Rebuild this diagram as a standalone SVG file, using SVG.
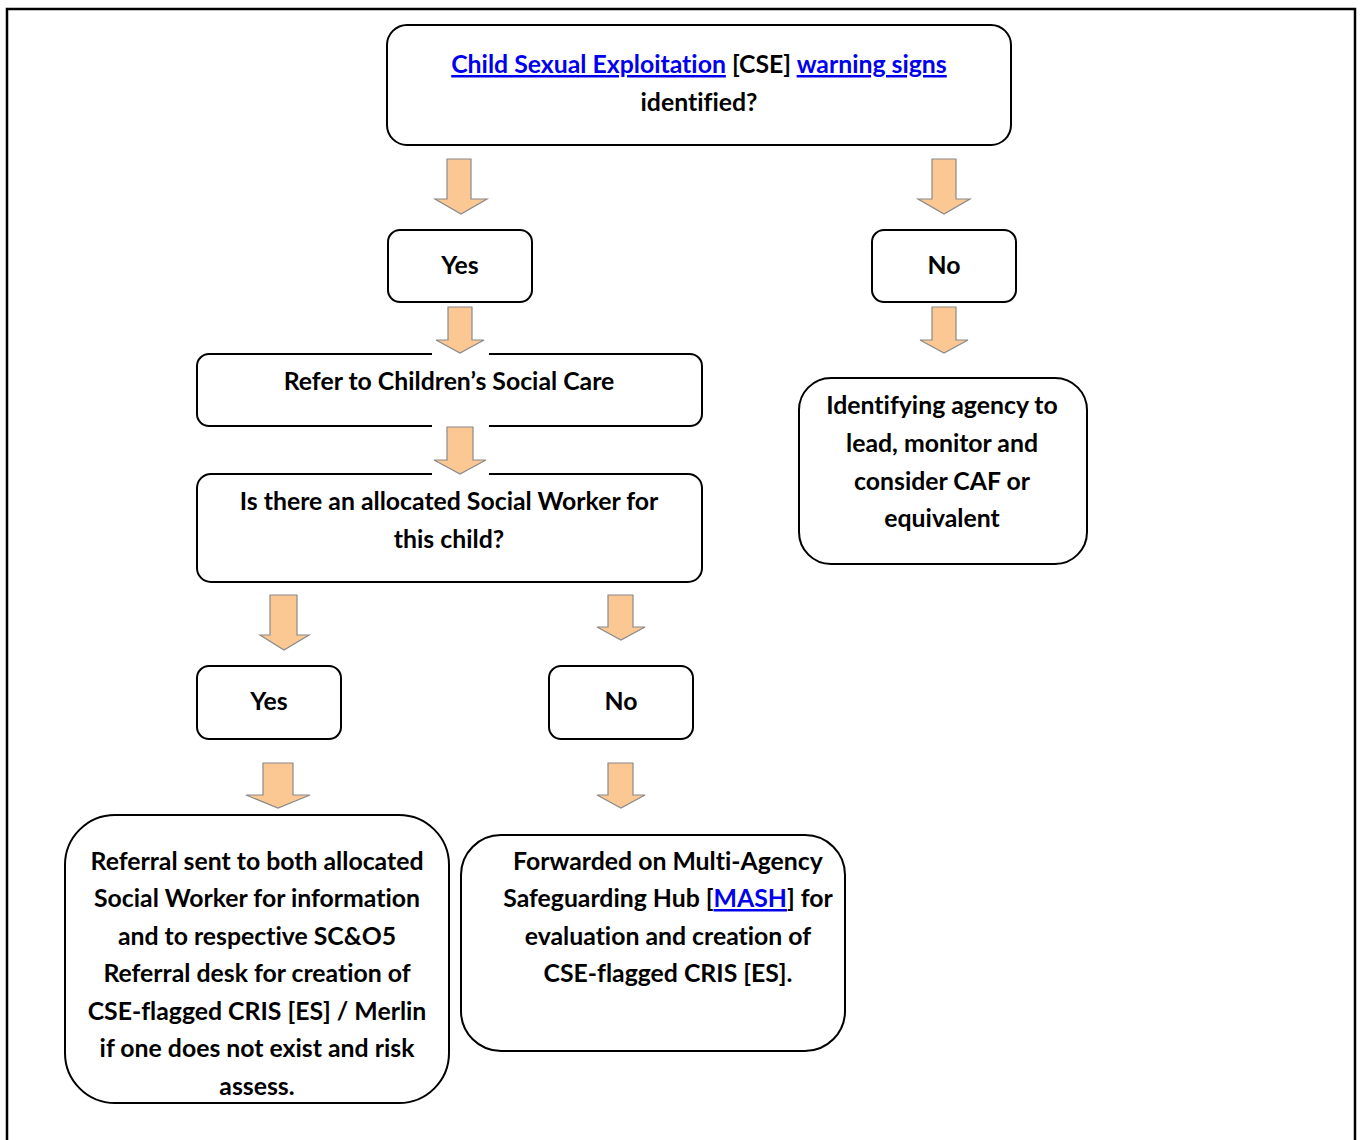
<svg xmlns="http://www.w3.org/2000/svg" width="1362" height="1140" viewBox="0 0 1362 1140">
<defs>
<style>
.box{fill:#fff;stroke:#000;stroke-width:2}
.t{font-family:Lato,"Open Sans","Liberation Sans",sans-serif;font-weight:bold;font-size:24.8px;fill:#000;text-anchor:middle;font-variant-ligatures:none}
.lnk{fill:#0000EE;text-decoration:underline}
.arr{fill:#FBC793;stroke:#8a8a8a;stroke-width:1.2;stroke-linejoin:miter}
.bg{fill:#fff}
</style>
</defs>
<rect width="1362" height="1140" fill="#fff"/>
<path d="M7 1142 V9 H1355 V1142" fill="none" stroke="#000" stroke-width="2.5"/>

<g id="n-top">
<rect class="box" x="387" y="25" width="624" height="120" rx="20"/>
<text class="t" x="699" y="73"><tspan class="lnk">Child Sexual Exploitation</tspan> [CSE] <tspan class="lnk">warning signs</tspan></text>
<text class="t" x="699" y="111">identified?</text>
</g>
<g id="n-yes1">
<rect class="box" x="388" y="230" width="144" height="72" rx="12"/>
<text class="t" x="460" y="274">Yes</text>
</g>
<g id="n-no1">
<rect class="box" x="872" y="230" width="144" height="72" rx="12"/>
<text class="t" x="944" y="274">No</text>
</g>
<g id="n-refer">
<rect class="box" x="197" y="354" width="505" height="72" rx="12"/>
<text class="t" x="449" y="390">Refer to Children’s Social Care</text>
</g>
<g id="n-allocated">
<rect class="box" x="197" y="474" width="505" height="108" rx="14"/>
<text class="t" x="449" y="510">Is there an allocated Social Worker for</text>
<text class="t" x="449" y="548">this child?</text>
</g>
<g id="n-identifying">
<rect class="box" x="799" y="378" width="288" height="186" rx="32"/>
<text class="t" x="942" y="414">Identifying agency to</text>
<text class="t" x="942" y="452">lead, monitor and</text>
<text class="t" x="942" y="490">consider CAF or</text>
<text class="t" x="942" y="527">equivalent</text>
</g>
<g id="n-yes2">
<rect class="box" x="197" y="666" width="144" height="73" rx="12"/>
<text class="t" x="269" y="710">Yes</text>
</g>
<g id="n-no2">
<rect class="box" x="549" y="666" width="144" height="73" rx="12"/>
<text class="t" x="621" y="710">No</text>
</g>
<g id="n-referral">
<rect class="box" x="65" y="815" width="384" height="288" rx="50"/>
<text class="t" x="257" y="870">Referral sent to both allocated</text>
<text class="t" x="257" y="907">Social Worker for information</text>
<text class="t" x="257" y="945">and to respective SC&amp;O5</text>
<text class="t" x="257" y="982">Referral desk for creation of</text>
<text class="t" x="257" y="1020">CSE-flagged CRIS [ES] / Merlin</text>
<text class="t" x="257" y="1057">if one does not exist and risk</text>
<text class="t" x="257" y="1095">assess.</text>
</g>
<g id="n-forwarded">
<rect class="box" x="461" y="835" width="384" height="216" rx="40"/>
<text class="t" x="668" y="870">Forwarded on Multi-Agency</text>
<text class="t" x="668" y="907">Safeguarding Hub [<tspan class="lnk">MASH</tspan>] for</text>
<text class="t" x="668" y="945">evaluation and creation of</text>
<text class="t" x="668" y="982">CSE-flagged CRIS [ES].</text>
</g>

<g id="connectors">
<path class="arr" d="M447 159 H471 V199 H487 L461 214 L435 199 H447 Z"/>
<path class="arr" d="M932 159 H956 V199 H970 L944 214 L918 199 H932 Z"/>
<rect class="bg" x="432" y="305" width="57" height="51"/>
<path class="arr" d="M448 307 H472 V340 H484 L460 353 L436 340 H448 Z"/>
<path class="arr" d="M932 307 H956 V340 H968 L944 353 L920 340 H932 Z"/>
<rect class="bg" x="432" y="424" width="57" height="52"/>
<path class="arr" d="M447 427 H473 V460 H486 L460 474 L434 460 H447 Z"/>
<path class="arr" d="M270 595 H297 V635 H309 L284 650 L260 635 H270 Z"/>
<path class="arr" d="M608 595 H633 V627 H645 L621 640 L597 627 H608 Z"/>
<path class="arr" d="M263 763 H293 V795 H310 L278 808 L246 795 H263 Z"/>
<path class="arr" d="M608 763 H633 V795 H645 L621 808 L597 795 H608 Z"/>
</g>
</svg>
